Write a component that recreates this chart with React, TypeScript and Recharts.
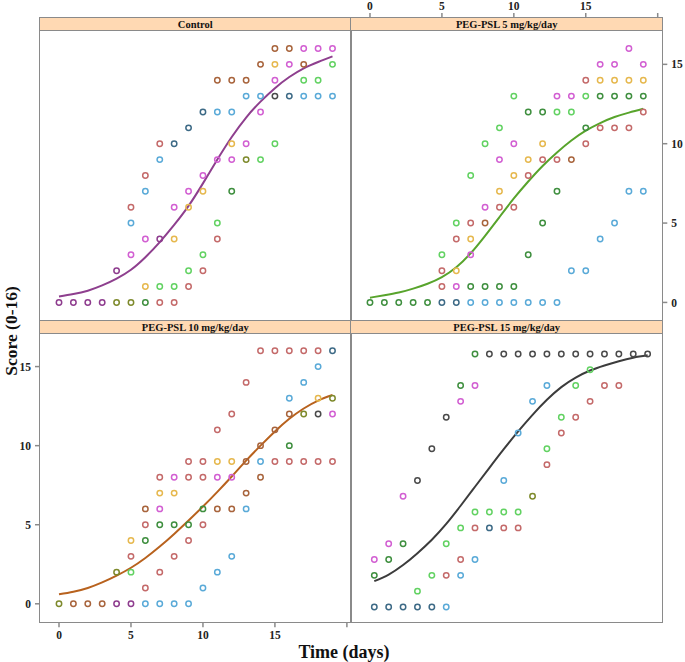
import { ComposedChart, Scatter, Line, XAxis, YAxis } from 'recharts';

// days of observation and the fitted curve values per group
const days = [0, 1, 2, 3, 4, 5, 6, 7, 8, 9, 10, 11, 12, 13, 14, 15, 16, 17, 18, 19];
const days15 = [0.3, 1.3, 2.3, 3.3, 4.3, 5.3, 6.3, 7.3, 8.3, 9.3, 10.3, 11.3, 12.3, 13.3, 14.3, 15.3, 16.3, 17.3, 18.3, 19.3];

const controlFit = [0.38, 0.53, 0.74, 1.07, 1.5, 2.06, 2.85, 3.8, 4.88, 6.08, 7.5, 9.0, 10.42, 11.65, 12.65, 13.5, 14.2, 14.75, 15.15, 15.5];
const peg5Fit = [0.3, 0.45, 0.62, 0.87, 1.18, 1.6, 2.22, 3.1, 4.2, 5.38, 6.55, 7.62, 8.6, 9.45, 10.2, 10.82, 11.3, 11.68, 11.96, 12.2];
const peg10Fit = [0.6, 0.76, 1.0, 1.35, 1.78, 2.28, 2.9, 3.62, 4.42, 5.27, 6.15, 7.08, 8.05, 9.05, 10.0, 10.9, 11.7, 12.35, 12.85, 13.2];
const peg15Fit = [1.43, 1.85, 2.45, 3.2, 4.05, 5.05, 6.2, 7.4, 8.6, 9.78, 10.9, 11.95, 12.9, 13.7, 14.3, 14.75, 15.07, 15.34, 15.56, 15.71];

const xTicks = [0, 5, 10, 15, 20];
const yTicks = [0, 5, 10, 15];

// [day, score, colour key] for each animal observation
const controlPoints: [number, number, string][] = [
  [0, 0, 'p'], [1, 0, 'p'], [2, 0, 'p'], [3, 0, 'p'], [4, 0, 'v'], [5, 0, 'v'], [6, 0, 'd'], [7, 0, 'r'], [8, 0, 'r'],
  [6, 1, 'o'], [7, 1, 'g'], [8, 1, 'g'], [9, 1, 'r'],
  [4, 2, 'p'], [9, 2, 'g'], [10, 2, 'r'],
  [5, 3, 'm'], [10, 3, 'g'],
  [6, 4, 'm'], [7, 4, 'p'], [8, 4, 'o'], [11, 4, 'r'],
  [5, 5, 'b'], [11, 5, 'g'],
  [5, 6, 'r'], [8, 6, 'm'], [9, 6, 'o'],
  [6, 7, 'b'], [9, 7, 'm'], [10, 7, 'o'], [12, 7, 'd'],
  [6, 8, 'r'], [10, 8, 'm'],
  [7, 9, 'b'], [11, 9, 'm'], [12, 9, 'm'], [13, 9, 'v'], [14, 9, 'g'],
  [7, 10, 'r'], [8, 10, 's'], [12, 10, 'o'], [13, 10, 'm'], [15, 10, 'g'],
  [9, 11, 's'],
  [10, 12, 's'], [11, 12, 'b'], [12, 12, 'b'], [14, 12, 'm'],
  [13, 13, 'b'], [14, 13, 'b'], [15, 13, 'k'], [16, 13, 's'], [17, 13, 'b'], [18, 13, 'b'], [19, 13, 'b'],
  [11, 14, 'n'], [12, 14, 'n'], [13, 14, 'n'], [15, 14, 'm'], [17, 14, 'g'], [18, 14, 'g'],
  [14, 15, 'n'], [15, 15, 'o'], [16, 15, 'm'], [17, 15, 'n'], [19, 15, 'g'],
  [15, 16, 'n'], [16, 16, 'n'], [17, 16, 'm'], [18, 16, 'm'], [19, 16, 'm'],
];

const peg5Points: [number, number, string][] = [
  [0, 0, 'd'], [1, 0, 'd'], [2, 0, 'd'], [3, 0, 'd'], [4, 0, 'd'], [5, 0, 's'], [6, 0, 's'], [7, 0, 'b'], [8, 0, 'b'],
  [9, 0, 'b'], [10, 0, 'b'], [11, 0, 'b'], [12, 0, 'b'], [13, 0, 'b'],
  [5, 1, 'r'], [6, 1, 'm'], [7, 1, 'd'], [8, 1, 'd'], [9, 1, 'd'], [10, 1, 'd'],
  [5, 2, 'r'], [6, 2, 'o'], [14, 2, 'b'], [15, 2, 'b'],
  [5, 3, 'g'], [7, 3, 'm'], [11, 3, 'd'],
  [6, 4, 'r'], [7, 4, 'o'], [16, 4, 'b'],
  [6, 5, 'g'], [7, 5, 'r'], [8, 5, 'n'], [12, 5, 'd'], [17, 5, 'b'],
  [8, 6, 'm'], [9, 6, 'r'], [10, 6, 'r'],
  [9, 7, 'o'], [13, 7, 'd'], [18, 7, 'b'], [19, 7, 'b'],
  [7, 8, 'g'], [10, 8, 'o'], [11, 8, 'r'],
  [9, 9, 'm'], [11, 9, 'o'], [12, 9, 'r'], [13, 9, 'r'], [14, 9, 'n'],
  [8, 10, 'g'], [10, 10, 'm'], [12, 10, 'o'], [15, 10, 'r'],
  [9, 11, 'g'], [15, 11, 'd'], [16, 11, 'r'], [17, 11, 'r'], [18, 11, 'r'],
  [11, 12, 'd'], [12, 12, 'd'], [13, 12, 'g'], [14, 12, 'g'], [19, 12, 'r'],
  [10, 13, 'g'], [13, 13, 'm'], [14, 13, 'm'], [15, 13, 'g'], [16, 13, 'd'], [17, 13, 'd'], [18, 13, 'd'], [19, 13, 'd'],
  [15, 14, 'r'], [16, 14, 'o'], [17, 14, 'o'], [18, 14, 'o'], [19, 14, 'o'],
  [16, 15, 'm'], [17, 15, 'm'], [19, 15, 'm'],
  [18, 16, 'm'],
];

const peg10Points: [number, number, string][] = [
  [0, 0, 'v'], [1, 0, 'n'], [2, 0, 'n'], [3, 0, 'n'], [4, 0, 'p'], [5, 0, 'p'], [6, 0, 'b'], [7, 0, 'b'], [8, 0, 'b'], [9, 0, 'b'],
  [6, 1, 'r'], [10, 1, 'b'],
  [4, 2, 'v'], [5, 2, 'g'], [7, 2, 'r'], [11, 2, 'b'],
  [5, 3, 'r'], [8, 3, 'r'], [12, 3, 'b'],
  [5, 4, 'o'], [6, 4, 'd'], [9, 4, 'r'],
  [6, 5, 'r'], [7, 5, 'd'], [8, 5, 'd'], [9, 5, 'd'], [10, 5, 'r'],
  [6, 6, 'n'], [7, 6, 'm'], [10, 6, 'd'], [11, 6, 'n'], [12, 6, 'n'], [13, 6, 'b'],
  [7, 7, 'o'], [8, 7, 'o'], [13, 7, 'n'],
  [7, 8, 'r'], [8, 8, 'm'], [9, 8, 'r'], [10, 8, 'r'], [11, 8, 'm'], [12, 8, 'm'], [14, 8, 'n'],
  [9, 9, 'r'], [10, 9, 'r'], [11, 9, 'o'], [12, 9, 'o'], [13, 9, 'n'], [14, 9, 'b'], [15, 9, 'r'], [16, 9, 'r'], [17, 9, 'r'], [18, 9, 'r'], [19, 9, 'r'],
  [14, 10, 'n'], [16, 10, 'd'],
  [11, 11, 'r'], [15, 11, 'n'],
  [12, 12, 'r'], [16, 12, 'n'], [17, 12, 'v'], [18, 12, 'k'], [19, 12, 'm'],
  [16, 13, 'b'], [18, 13, 'o'], [19, 13, 'v'],
  [13, 14, 'r'], [17, 14, 'b'],
  [18, 15, 'b'],
  [14, 16, 'r'], [15, 16, 'r'], [16, 16, 'r'], [17, 16, 'r'], [18, 16, 'r'], [19, 16, 's'],
];

const peg15Points: [number, number, string][] = [
  [7.3, 15.8, 'd'], [8.3, 15.8, 'k'], [9.3, 15.8, 'k'], [10.3, 15.8, 'k'], [11.3, 15.8, 'k'], [12.3, 15.8, 'k'], [13.3, 15.8, 'k'],
  [14.3, 15.8, 'k'], [15.3, 15.8, 'k'], [16.3, 15.8, 'k'], [17.3, 15.8, 'k'], [18.3, 15.8, 'k'], [19.3, 15.8, 'k'],
  [15.3, 14.8, 'g'],
  [6.3, 13.8, 'd'], [7.3, 13.8, 'm'], [12.3, 13.8, 'b'], [14.3, 13.8, 'g'], [16.3, 13.8, 'r'], [17.3, 13.8, 'r'],
  [6.3, 12.8, 'm'], [11.3, 12.8, 'b'], [15.3, 12.8, 'r'],
  [5.3, 11.8, 'k'], [13.3, 11.8, 'g'], [14.3, 11.8, 'r'],
  [10.3, 10.8, 'b'], [13.3, 10.8, 'r'],
  [4.3, 9.8, 'k'], [12.3, 9.8, 'g'],
  [12.3, 8.8, 'r'],
  [3.3, 7.8, 'k'], [9.3, 7.8, 'b'],
  [2.3, 6.8, 'm'], [11.3, 6.8, 'v'],
  [7.3, 5.8, 'g'], [8.3, 5.8, 'g'], [9.3, 5.8, 'g'], [10.3, 5.8, 'g'],
  [6.3, 4.8, 'g'], [7.3, 4.8, 'r'], [8.3, 4.8, 's'], [9.3, 4.8, 'r'], [10.3, 4.8, 'r'],
  [1.3, 3.8, 'm'], [2.3, 3.8, 'd'], [5.3, 3.8, 'g'],
  [0.3, 2.8, 'm'], [1.3, 2.8, 'd'], [6.3, 2.8, 'r'], [7.3, 2.8, 'b'],
  [0.3, 1.8, 'd'], [4.3, 1.8, 'g'], [5.3, 1.8, 'r'], [6.3, 1.8, 'b'],
  [3.3, 0.8, 'g'],
  [0.3, -0.2, 's'], [1.3, -0.2, 's'], [2.3, -0.2, 's'], [3.3, -0.2, 's'], [4.3, -0.2, 's'], [5.3, -0.2, 'b'],
];

const palette: Record<string, string> = {
  b: '#5aaad8',
  m: '#d25fd2',
  g: '#62d262',
  d: '#3f8f3f',
  r: '#c46a6a',
  o: '#e6b84e',
  n: '#a8643c',
  p: '#8e3c8e',
  s: '#3d6a86',
  v: '#7e8a2c',
  k: '#4a4a4a',
};

const FONT = '"Liberation Serif", serif';
const FRAME = '#8a8a8a';
const STRIP_BG = '#ffd9b3';

// panel geometry
const colL = 39.5;
const colM = 351;
const colR = 662.3;
const topTop = 17.7;
const stripH = 13;
const midY = 320.7;
const botBottom = 622;
const xDomain: [number, number] = [-1.32, 20.32];

const tickStyle = { fontSize: 11.5, fontWeight: 700, fill: '#222', fontFamily: FONT };

type PanelProps = {
  left: number;
  top: number;
  width: number;
  height: number;
  yMax: number;
  points: [number, number, string][];
  xs: number[];
  fit: number[];
  fitColor: string;
  xSide: 'top' | 'bottom';
  xLabels: boolean;
  ySide: 'left' | 'right';
  yLabels: boolean;
};

function Panel(props: PanelProps) {
  const padX = 40;
  const padY = 25;
  const pts = props.points.map(([x, y, c]) => ({ x, y, c: palette[c] }));
  const line = props.xs.map((x, i) => ({ x, y: props.fit[i] }));
  return (
    <div style={{ position: 'absolute', left: props.left - padX, top: props.top - padY }}>
      <ComposedChart
        width={props.width + 2 * padX}
        height={props.height + 2 * padY}
        margin={{
          top: props.xSide === 'top' ? 0 : padY,
          bottom: props.xSide === 'bottom' ? 0 : padY,
          left: props.ySide === 'left' ? 0 : padX,
          right: props.ySide === 'right' ? 0 : padX,
        }}
      >
        <XAxis
          type="number"
          dataKey="x"
          orientation={props.xSide}
          height={padY}
          domain={xDomain}
          allowDataOverflow
          ticks={xTicks}
          interval={0}
          axisLine={false}
          tickSize={5}
          tickMargin={props.xSide === 'top' ? 3 : 4}
          tickLine={{ stroke: FRAME, strokeWidth: 1.5 }}
          tick={props.xLabels ? tickStyle : false}
          tickFormatter={(v: number) => (v === 20 ? '' : String(v))}
        />
        <YAxis
          type="number"
          dataKey="y"
          orientation={props.ySide}
          width={padX}
          domain={[-1.17, props.yMax]}
          allowDataOverflow
          ticks={yTicks}
          interval={0}
          axisLine={false}
          tickSize={5}
          tickMargin={4}
          tickLine={{ stroke: FRAME, strokeWidth: 1.5 }}
          tick={props.yLabels ? tickStyle : false}
        />
        <Scatter
          data={pts}
          isAnimationActive={false}
          shape={(p: any) => (
            <circle cx={p.cx} cy={p.cy} r={2.7} fill="none" stroke={p.payload.c} strokeWidth={1.5} />
          )}
        />
        <Line
          data={line}
          dataKey="y"
          type="natural"
          stroke={props.fitColor}
          strokeWidth={2}
          dot={false}
          isAnimationActive={false}
        />
      </ComposedChart>
    </div>
  );
}

function Box({ left, top, width, height, title }: { left: number; top: number; width: number; height: number; title: string }) {
  return (
    <>
      <div
        style={{
          position: 'absolute',
          left,
          top,
          width,
          height: stripH,
          background: STRIP_BG,
          borderBottom: `1.5px solid ${FRAME}`,
          boxSizing: 'border-box',
          fontFamily: FONT,
          fontWeight: 700,
          fontSize: 10.5,
          lineHeight: `${stripH}px`,
          textAlign: 'center',
          color: '#111',
        }}
      >
        {title}
      </div>
      <div
        style={{
          position: 'absolute',
          left: left - 0.75,
          top: top - 0.75,
          width: width + 1.5,
          height: height + 1.5,
          border: `1.5px solid ${FRAME}`,
          boxSizing: 'border-box',
        }}
      />
    </>
  );
}

export default function App() {
  const wL = colM - colL;
  const wR = colR - colM;
  const topH = midY - topTop;
  const botH = botBottom - (midY + stripH);
  return (
    <div style={{ position: 'absolute', left: 0, top: 0, width: 685, height: 662, background: '#fff', overflow: 'hidden' }}>
      <Panel left={colL} top={topTop} width={wL} height={topH} yMax={17.92} points={controlPoints} xs={days} fit={controlFit}
        fitColor="#8e3f8e" xSide="top" xLabels={false} ySide="left" yLabels={false} />
      <Panel left={colM} top={topTop} width={wR} height={topH} yMax={17.92} points={peg5Points} xs={days} fit={peg5Fit}
        fitColor="#58a42c" xSide="top" xLabels={true} ySide="right" yLabels={true} />
      <Panel left={colL} top={midY + stripH} width={wL} height={botH} yMax={17.06} points={peg10Points} xs={days} fit={peg10Fit}
        fitColor="#b8621e" xSide="bottom" xLabels={true} ySide="left" yLabels={true} />
      <Panel left={colM} top={midY + stripH} width={wR} height={botH} yMax={17.06} points={peg15Points} xs={days15} fit={peg15Fit}
        fitColor="#3c3c3c" xSide="bottom" xLabels={false} ySide="right" yLabels={false} />

      <Box left={colL} top={topTop} width={wL} height={midY - topTop} title="Control" />
      <Box left={colM} top={topTop} width={wR} height={midY - topTop} title="PEG-PSL 5 mg/kg/day" />
      <Box left={colL} top={midY} width={wL} height={botBottom - midY} title="PEG-PSL 10 mg/kg/day" />
      <Box left={colM} top={midY} width={wR} height={botBottom - midY} title="PEG-PSL 15 mg/kg/day" />

      <div
        style={{
          position: 'absolute',
          left: 11,
          top: 331,
          transform: 'translate(-50%, -50%) rotate(-90deg)',
          fontFamily: FONT,
          fontWeight: 700,
          fontSize: 17.5,
          lineHeight: '20px',
          whiteSpace: 'nowrap',
          color: '#111',
        }}
      >
        Score (0-16)
      </div>
      <div
        style={{
          position: 'absolute',
          left: 344,
          top: 652,
          transform: 'translate(-50%, -50%)',
          fontFamily: FONT,
          fontWeight: 700,
          fontSize: 18,
          whiteSpace: 'nowrap',
          color: '#111',
        }}
      >
        Time (days)
      </div>
    </div>
  );
}
